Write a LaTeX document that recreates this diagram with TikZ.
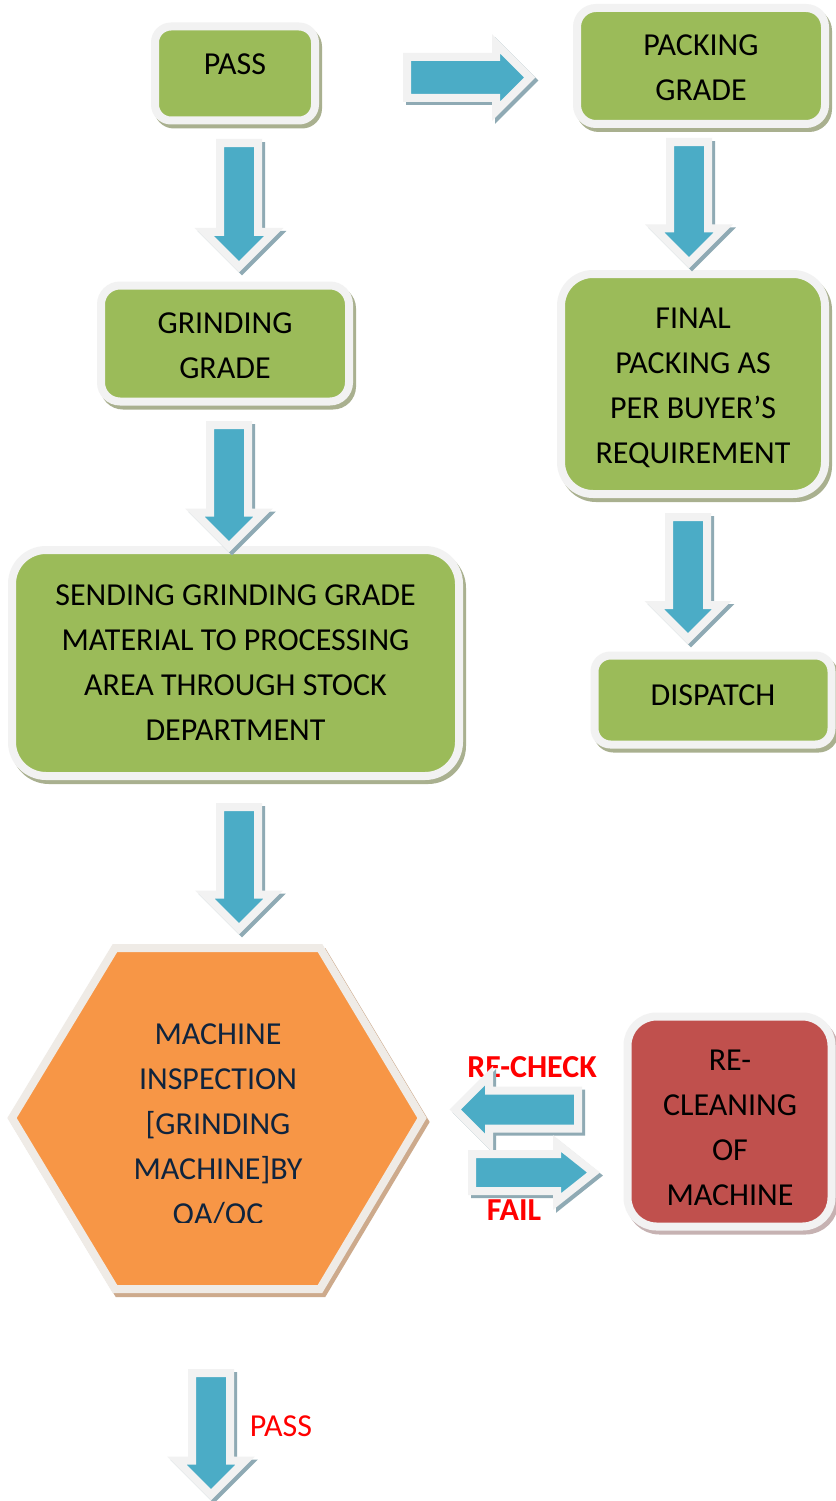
\documentclass[tikz,border=0pt]{standalone}
\usepackage{fontspec}
\setmainfont{Carlito}
\usetikzlibrary{shapes.arrows}
\definecolor{gfill}{HTML}{9BBB59}
\definecolor{bfill}{HTML}{4BACC6}
\definecolor{ofill}{HTML}{F79646}
\definecolor{rfill}{HTML}{C0504D}
\definecolor{rim}{HTML}{F2F2F2}
\definecolor{hexrim}{HTML}{EFEBE6}
\definecolor{gshadow}{HTML}{A9B08F}
\definecolor{bshadow}{HTML}{8FAAB4}
\definecolor{oshadow}{HTML}{CDAA8C}
\definecolor{rshadow}{HTML}{C6B2B2}
\definecolor{navy}{HTML}{0F243E}
\definecolor{lblred}{HTML}{FF0000}
\newcommand\flowbox[8]{%
  \node[box, draw=#8, fill=#8, minimum width=#4, minimum height=#5, rounded corners=#6] (#1s) at ({#2+3},{#3+4}) {};
  \node[box, fill=#7, minimum width=#4, minimum height=#5, rounded corners=#6] (#1) at (#2,#3) {};
}
\newcommand\blockarrow[8]{%
  \node[arrshadow, rotate=#4, minimum height=#5, inner ysep=#6, single arrow head extend=#7, single arrow tip angle=#8] (#1s) at ({#2+3},{#3+3}) {};
  \node[arr, rotate=#4, minimum height=#5, inner ysep=#6, single arrow head extend=#7, single arrow tip angle=#8] (#1) at (#2,#3) {};
}
\begin{document}
\begin{tikzpicture}[x=1pt,y=-1pt,
  box/.style={rectangle, draw=rim, line width=8pt, inner sep=0pt},
  txt/.style={font=\fontsize{32}{45}\selectfont, align=center, inner sep=0pt, text=black},
  lbl/.style={font=\fontsize{32}{45}\selectfont, inner sep=0pt, text=lblred},
  arr/.style={single arrow, draw=rim, fill=bfill, line width=8pt, inner xsep=0pt, anchor=tail, minimum width=0pt},
  arrshadow/.style={arr, draw=bshadow, fill=bshadow},
  hexshape/.style={draw=hexrim, fill=ofill, line width=8pt},
  hexshadow/.style={draw=oshadow, fill=oshadow, line width=8pt}
]
\useasboundingbox[fill=white] (0,0) rectangle (835,1501);

% boxes
\flowbox{pass}{235}{73.5}{160}{94}{16pt}{gfill}{gshadow}
\flowbox{packing}{701}{66}{248}{116}{19pt}{gfill}{gshadow}
\flowbox{grinding}{225}{343.5}{248}{116}{19pt}{gfill}{gshadow}
\flowbox{sending}{235.5}{663}{447}{226}{34pt}{gfill}{gshadow}
\flowbox{final}{693}{384}{264}{220}{32pt}{gfill}{gshadow}
\flowbox{dispatch}{713}{700}{237}{89}{16pt}{gfill}{gshadow}
\flowbox{reclean}{729.5}{1121.5}{204}{210}{29pt}{rfill}{rshadow}

\node[txt] (passT) at (235,64) {PASS};
\node[txt] (packingT) at (701,68) {PACKING\\GRADE};
\node[txt] (grindingT) at (225,346) {GRINDING\\GRADE};
\node[txt] (sendingT) at (235.5,662.5) {SENDING GRINDING GRADE\\MATERIAL TO PROCESSING\\AREA THROUGH STOCK\\DEPARTMENT};
\node[txt] (finalT) at (693,387.5) {FINAL\\PACKING AS\\PER BUYER’S\\REQUIREMENT};
\node[txt] (dispatchT) at (713,695) {DISPATCH};
\node[txt] (recleanT) at (730,1127.5) {RE-\\CLEANING\\OF\\MACHINE};

% hexagon
\draw[hexshadow] (118,952) -- (323,952) -- (425,1122) -- (323,1293) -- (118,1293) -- (15,1122) -- cycle;
\draw[hexshape] (115,948) -- (320,948) -- (422,1118) -- (320,1289) -- (115,1289) -- (12,1118) -- cycle;
\begin{scope}
  \clip (0,0) rectangle (835,1222);
  \node[txt, text=navy] (insp) at (218,1126) {MACHINE\\INSPECTION\\{}[GRINDING\\MACHINE]BY\\QA/QC};
\end{scope}

% labels
\node[lbl, font=\fontsize{32}{45}\selectfont\bfseries] (recheck) at (532,1067) {RE-CHECK};
\node[lbl, font=\fontsize{32}{45}\selectfont\bfseries] (fail) at (514,1210) {FAIL};
\node[lbl] (passlbl) at (281,1426) {PASS};

% block arrows
\blockarrow{a1}{403}{77.5}{0}{122.7}{16.5}{13.2}{90}
\blockarrow{a2}{239}{139}{-90}{123.7}{15}{15.7}{90}
\blockarrow{a3}{229}{421}{-90}{121.7}{15}{15.2}{90}
\blockarrow{a4}{239}{803}{-90}{121.7}{15}{15.2}{90}
\blockarrow{a5}{689}{138}{-90}{120.7}{15}{15.2}{90}
\blockarrow{a6}{688}{513}{-90}{121.7}{15}{14.7}{90}
\blockarrow{a7}{582}{1109.5}{180}{122.7}{15}{14.7}{90}
\blockarrow{a8}{468}{1172.5}{0}{121.5}{14.5}{10.5}{77}
\blockarrow{a9}{211}{1369}{-90}{121.7}{15}{15.2}{90}
\end{tikzpicture}
\end{document}
